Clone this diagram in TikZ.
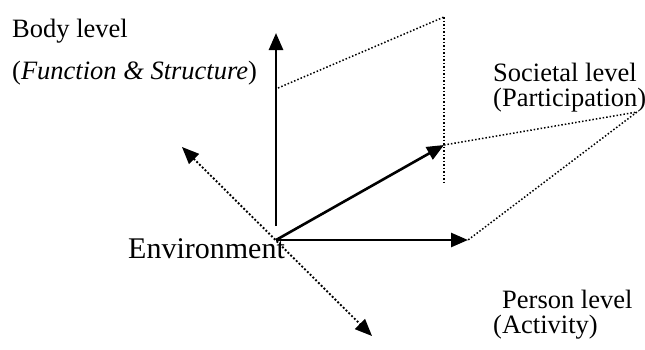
\documentclass[tikz,border=0pt]{standalone}
\usepackage{fontspec}
\setmainfont{Liberation Serif}
\usetikzlibrary{arrows.meta}
\tikzset{
  axis/.style={line width=2.6pt,-{Triangle[length=17pt,width=14pt]}},
  dotline/.style={line width=1.5pt,dotted},
  dotarrow/.style={line width=1.9pt,dotted,{Triangle[length=17pt,width=14pt]}-{Triangle[length=17pt,width=14pt]}},
  lbl/.style={anchor=base west,inner sep=0pt,font=\fontsize{26.5}{30}\selectfont},
  biglbl/.style={anchor=base west,inner sep=0pt,font=\fontsize{30}{34}\selectfont}
}
\begin{document}
\begin{tikzpicture}[x=1pt,y=-1pt]
\useasboundingbox (0,0) rectangle (645,349);
% key points
\coordinate (O) at (276,240);
\coordinate (vs) at (276,226);
\coordinate (vt) at (276,33);
\coordinate (dt) at (444,145);
\coordinate (ht) at (468,240);
\coordinate (ul) at (182,147);
\coordinate (lr) at (372,336);
\coordinate (pt) at (444,17);
\coordinate (pb) at (444,183);
\coordinate (bl) at (278,88);
\coordinate (sr) at (637,112);
% dotted planes
\draw[dotline] (pt) -- (pb);
\draw[dotline] (bl) -- (pt);
\draw[dotline] (dt) -- (sr) -- (ht);
% axes
\draw[axis] (vs) -- (vt);
\draw[axis] (O) -- (dt);
\draw[axis] (O) -- (ht);
\draw[dotarrow] (ul) -- (lr);
% labels
\node[lbl] (body) at (12,37) {Body level};
\node[lbl] (func) at (12,79) {(\textit{Function \& Structure})};
\node[biglbl] (env) at (128,258) {Environment};
\node[lbl] (soc) at (493,81) {Societal level};
\node[lbl] (part) at (493,106) {(Participation)};
\node[lbl] (pers) at (502,308) {Person level};
\node[lbl] (act) at (493,333) {(Activity)};
\end{tikzpicture}
\end{document}
